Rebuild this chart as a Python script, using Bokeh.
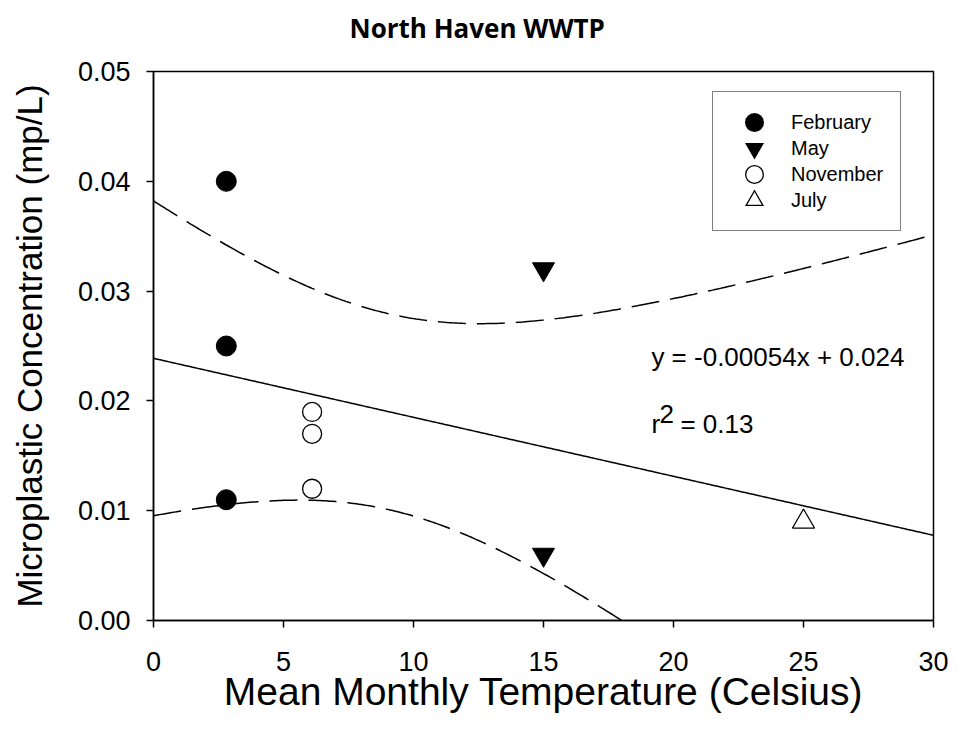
import numpy as np
from bokeh.plotting import figure
from bokeh.models import (Range1d, FixedTicker, NumeralTickFormatter, Legend, LegendItem,
                          Label, Title)
from bokeh.embed import file_html
from bokeh.resources import INLINE

# ---- data ----
feb_x = [2.8, 2.8, 2.8]
feb_y = [0.040, 0.025, 0.011]
may_x = [15.0, 15.0]
may_y = [0.032, 0.006]
nov_x = [6.1, 6.1, 6.1]
nov_y = [0.019, 0.017, 0.012]
jul_x = [25.0]
jul_y = [0.009]
x_ticks = [0, 5, 10, 15, 20, 25, 30]
y_ticks = [0.00, 0.01, 0.02, 0.03, 0.04, 0.05]
T_CRIT = 2.3646  # Student t, 0.975, df = 7

# ---- regression & 95% confidence band computed from the data ----
xs = np.array(feb_x + may_x + nov_x + jul_x)
ys = np.array(feb_y + may_y + nov_y + jul_y)
n = len(xs)
xm, ym = xs.mean(), ys.mean()
sxx = ((xs - xm) ** 2).sum()
slope = ((xs - xm) * (ys - ym)).sum() / sxx
icpt = ym - slope * xm
resid = ys - (icpt + slope * xs)
s = np.sqrt((resid ** 2).sum() / (n - 2))
gx = np.linspace(0, 30, 301)
fit = icpt + slope * gx
half = T_CRIT * s * np.sqrt(1.0 / n + (gx - xm) ** 2 / sxx)

FONT = "Liberation Sans"

p = figure(width=950, height=735, output_backend="svg", toolbar_location=None,
           x_range=Range1d(0, 30), y_range=Range1d(0, 0.05),
           min_border_left=153, min_border_right=17, min_border_top=71, min_border_bottom=115)
p.background_fill_color = "white"
p.border_fill_color = "white"
p.xgrid.visible = False
p.ygrid.visible = False
p.outline_line_color = "black"
p.outline_line_width = 1.5

# spacer (closest to frame) then the real title above it
p.add_layout(Title(text=" ", standoff=23, text_font_size="1px"), "above")
p.add_layout(Title(text="North Haven WWTP", align="left", offset=196, standoff=0,
                   text_font="Open Sans", text_font_style="bold", text_font_size="26px",
                   text_color="black"), "above")

for ax in (p.xaxis[0], p.yaxis[0]):
    ax.axis_line_color = "black"
    ax.axis_line_width = 1.5
    ax.major_tick_line_color = "black"
    ax.major_tick_line_width = 1.5
    ax.major_tick_out = 7
    ax.major_tick_in = 0
    ax.minor_tick_line_color = None
    ax.major_label_text_font = FONT
    ax.major_label_text_font_size = "27px"
    ax.major_label_text_color = "black"
    ax.axis_label_text_font = FONT
    ax.axis_label_text_font_style = "normal"
    ax.axis_label_text_color = "black"

p.xaxis.ticker = FixedTicker(ticks=x_ticks)
p.yaxis.ticker = FixedTicker(ticks=y_ticks)
p.yaxis.formatter = NumeralTickFormatter(format="0.00")
p.xaxis.axis_label = "Mean Monthly Temperature (Celsius)"
p.yaxis.axis_label = "Microplastic Concentration (mp/L)"
p.xaxis.axis_label_text_font_size = "39px"
p.yaxis.axis_label_text_font_size = "35px"
p.xaxis.major_label_standoff = 24
p.yaxis.major_label_standoff = 16
p.xaxis.axis_label_standoff = -4
p.yaxis.axis_label_standoff = 26

# lines
p.line(gx, fit, line_color="black", line_width=1.5)
p.line(gx, fit + half, line_color="black", line_width=1.5, line_dash="28 11")
p.line(gx, fit - half, line_color="black", line_width=1.5, line_dash="28 11")

# points
p.scatter(feb_x, feb_y, marker="circle", size=20, fill_color="black", line_color="black")
p.scatter(may_x, may_y, marker="inverted_triangle", size=22, fill_color="black", line_color="black")
p.scatter(nov_x, nov_y, marker="circle", size=19, fill_color="white", line_color="black", line_width=1.3)
p.scatter(jul_x, jul_y, marker="triangle", size=22, fill_color="white", line_color="black", line_width=1.3)

# legend-only proxy glyphs (hidden in the plot); thick strokes enlarge the small legend markers
def proxy(xv, yv, marker, color, lw):
    return p.scatter(xv, yv, marker=marker, size=10, fill_color=color,
                     line_color=color, line_width=lw, line_join="miter", visible=False)

lg_feb = [proxy(feb_x, feb_y, "circle", "black", 8.6)]
lg_may = [proxy(may_x, may_y, "inverted_triangle", "black", 5.0)]
lg_nov = [proxy(nov_x, nov_y, "circle", "black", 8.6), proxy(nov_x, nov_y, "circle", "white", 6.0)]
lg_jul = [proxy(jul_x, jul_y, "triangle", "black", 5.0), proxy(jul_x, jul_y, "triangle", "white", 2.4)]

legend = Legend(items=[LegendItem(label="February", renderers=lg_feb),
                       LegendItem(label="May", renderers=lg_may),
                       LegendItem(label="November", renderers=lg_nov),
                       LegendItem(label="July", renderers=lg_jul)],
                location=(559, 389), orientation="vertical",
                glyph_width=48, glyph_height=26, spacing=0, padding=17,
                label_standoff=13, label_height=20,
                label_text_font=FONT, label_text_font_size="20px", label_text_color="black",
                border_line_color="black", border_line_width=1.3,
                background_fill_color="white", background_fill_alpha=1.0, margin=0)
p.add_layout(legend, "center")

FS = "26px"
eq = Label(x=19.15, y=0.0240, text="y = -0.00054x + 0.024", text_font=FONT,
           text_font_size=FS, text_baseline="middle", text_color="black")
r_lab = Label(x=19.15, y=0.0179, text="r", text_font=FONT,
              text_font_size=FS, text_baseline="middle", text_color="black")
sq_lab = Label(x=19.15, y=0.0179, x_offset=8, y_offset=10, text="2", text_font=FONT,
               text_font_size=FS, text_baseline="middle", text_color="black")
val_lab = Label(x=19.15, y=0.0179, x_offset=29, text=" = 0.13", text_font=FONT,
                text_font_size=FS, text_baseline="middle", text_color="black")
for lab in (eq, r_lab, sq_lab, val_lab):
    p.add_layout(lab)

open("out.html", "w").write(file_html(p, INLINE))
